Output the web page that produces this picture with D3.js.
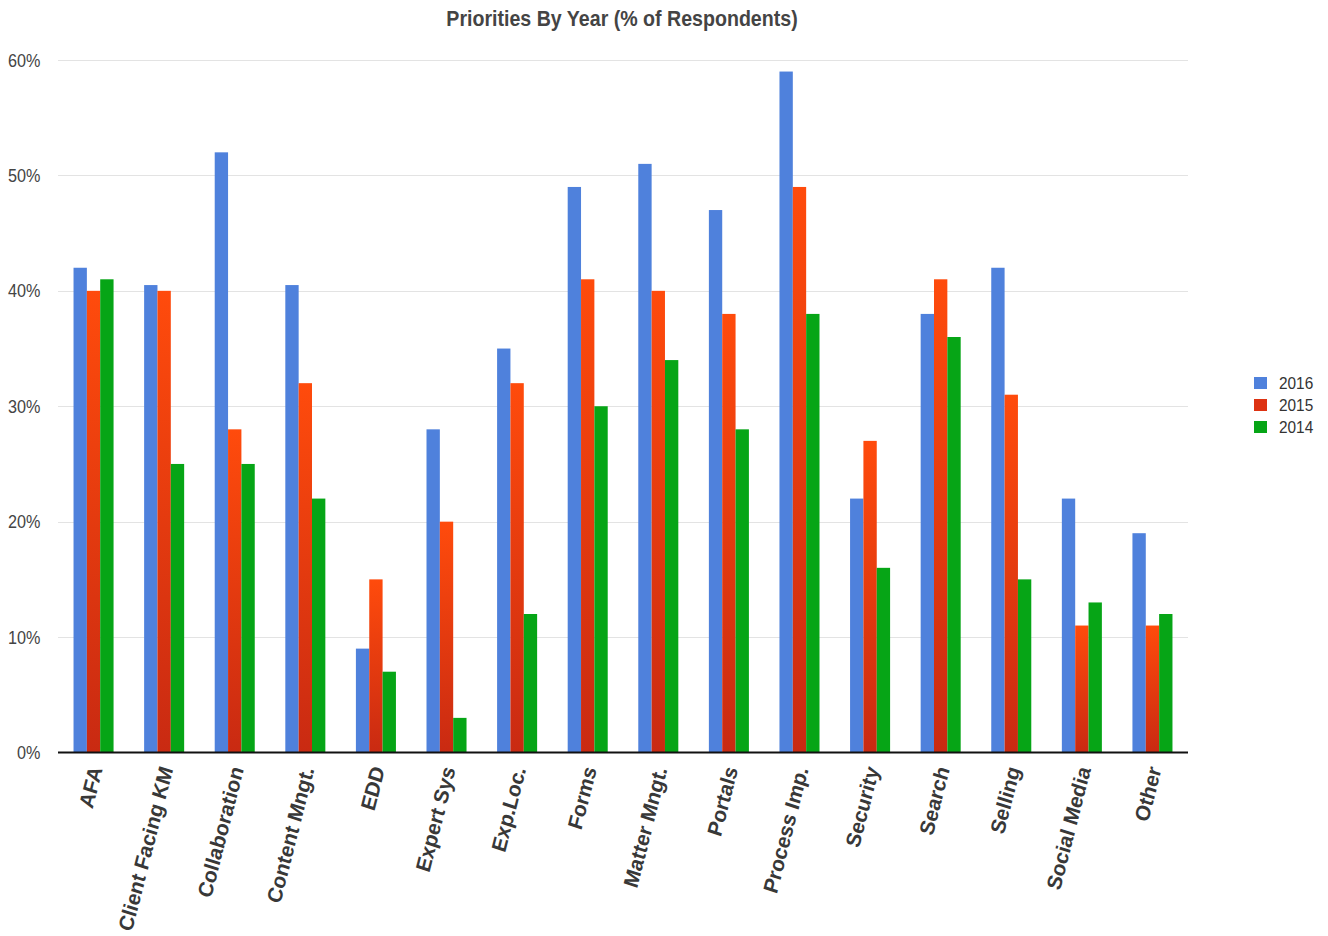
<!DOCTYPE html>
<html>
<head>
<meta charset="utf-8">
<script src="https://cdn.jsdelivr.net/npm/d3@7"></script>
<style>
  html, body { margin: 0; padding: 0; background: #ffffff; }
  svg { display: block; }
</style>
</head>
<body>
<svg id="chart" width="1328" height="936"></svg>
<script>
const categories = ["AFA", "Client Facing KM", "Collaboration", "Content Mngt.", "EDD", "Expert Sys", "Exp.Loc.", "Forms", "Matter Mngt.", "Portals", "Process Imp.", "Security", "Search", "Selling", "Social Media", "Other"];
const seriesNames = ["2016", "2015", "2014"];
const values2016 = [42, 40.5, 52, 40.5, 9, 28, 35, 49, 51, 47, 59, 22, 38, 42, 22, 19];
const values2015 = [40, 40, 28, 32, 15, 20, 32, 41, 40, 38, 49, 27, 41, 31, 11, 11];
const values2014 = [41, 25, 25, 22, 7, 3, 12, 30, 34, 28, 38, 16, 36, 15, 13, 12];
const yTicks = [0, 10, 20, 30, 40, 50, 60];
const titleText = "Priorities By Year (% of Respondents)";

const seriesValues = [values2016, values2015, values2014];
const seriesFill = ["#4f81dc", "url(#redGrad)", "#06a516"];
const legendFill = ["#4f81dc", "#dd3212", "#06a516"];

const SY = 1.13; // vertical text stretch seen in the reference
const sans = "Liberation Sans, Arial, Helvetica, sans-serif";

const svg = d3.select("#chart");
const plot = { left: 58, right: 1188, top: 60, bottom: 752.5 };

const defs = svg.append("defs");
const grad = defs.append("linearGradient").attr("id", "redGrad")
  .attr("x1", 0).attr("y1", 0).attr("x2", 0).attr("y2", 1);
grad.append("stop").attr("offset", "0%").attr("stop-color", "#ff4b0c");
grad.append("stop").attr("offset", "100%").attr("stop-color", "#c92a12");

const x = d3.scaleBand().domain(categories).range([plot.left, plot.right])
  .paddingInner(0.433).paddingOuter(0.22);
const xs = d3.scaleBand().domain(seriesNames).range([0, x.bandwidth()]);
const y = d3.scaleLinear().domain([0, 60]).range([plot.bottom, plot.top]);

// gridlines
svg.append("g").selectAll("line").data(yTicks.filter(t => t > 0)).join("line")
  .attr("x1", plot.left).attr("x2", plot.right)
  .attr("y1", d => Math.round(y(d)) + 0.5).attr("y2", d => Math.round(y(d)) + 0.5)
  .attr("stroke", "#e3e3e3").attr("stroke-width", 1.2);

// y labels
svg.append("g").selectAll("text").data(yTicks).join("text")
  .attr("transform", d => `translate(40.5,${y(d)}) scale(1,${SY})`)
  .attr("text-anchor", "end").attr("dy", "0.36em")
  .attr("font-family", sans).attr("font-size", 16.2).attr("fill", "#444")
  .text(d => d + "%");

// bars
const groups = svg.append("g").selectAll("g").data(categories).join("g")
  .attr("transform", d => `translate(${x(d)},0)`);
groups.selectAll("rect").data((c, i) => seriesNames.map((s, j) => ({ s, j, v: seriesValues[j][i] })))
  .join("rect")
  .attr("x", d => xs(d.s))
  .attr("width", xs.bandwidth())
  .attr("y", d => y(d.v))
  .attr("height", d => y(0) - y(d.v))
  .attr("fill", d => seriesFill[d.j]);

// x axis line
svg.append("line").attr("x1", plot.left).attr("x2", plot.right)
  .attr("y1", plot.bottom).attr("y2", plot.bottom)
  .attr("stroke", "#111").attr("stroke-width", 2);

// x labels
svg.append("g").selectAll("text").data(categories).join("text")
  .attr("transform", d => `translate(${x(d) + x.bandwidth() / 2 + 2},767) scale(1,${SY}) rotate(-74) scale(0.9,1)`)
  .attr("text-anchor", "end")
  .attr("dy", "0.36em")
  .attr("font-family", sans)
  .attr("font-weight", "bold")
  .attr("font-size", 20.6)
  .attr("fill", "#383838")
  .text(d => d);

// title
svg.append("text").attr("transform", `translate(622,26) scale(1,${SY})`).attr("text-anchor", "middle")
  .attr("font-family", sans).attr("font-weight", "bold")
  .attr("font-size", 19.6).attr("fill", "#444").text(titleText);

// legend
const legend = svg.append("g").selectAll("g").data(seriesNames).join("g")
  .attr("transform", (d, i) => `translate(1254,${377 + i * 22})`);
legend.append("rect").attr("width", 13).attr("height", 12).attr("fill", (d, i) => legendFill[i]);
legend.append("text").attr("transform", `translate(25,6) scale(1,1.06)`).attr("dy", "0.36em")
  .attr("font-family", sans).attr("font-size", 15.4)
  .attr("fill", "#333").text(d => d);
</script>
</body>
</html>
